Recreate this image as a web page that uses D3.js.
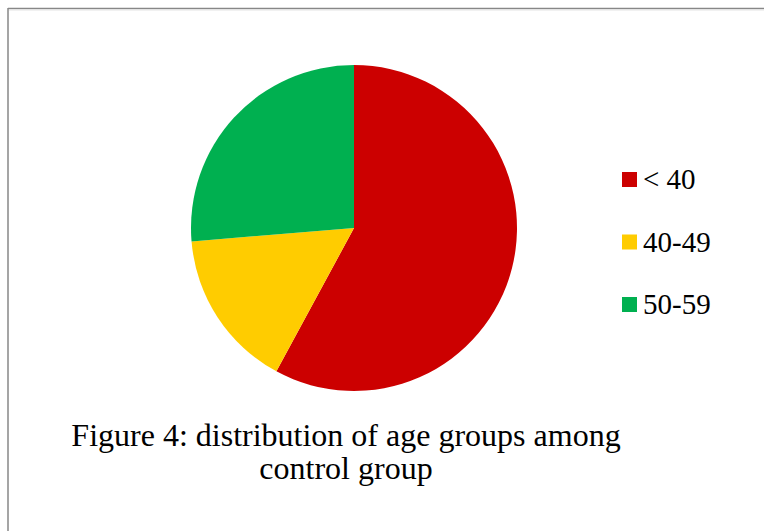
<!DOCTYPE html>
<html>
<head>
<meta charset="utf-8">
<script src="https://cdn.jsdelivr.net/npm/d3@7"></script>
<style>
  body { margin: 0; background: #fff; }
  svg { display: block; }
  text { font-family: "Liberation Serif", serif; }
</style>
</head>
<body>
<div id="chart"></div>
<script>
// age groups of the control group (counts)
const categories = ["< 40", "40-49", "50-59"];
const counts = [22, 6, 10];
const colours = ["#cc0000", "#ffcc00", "#00b050"];
const captionLines = ["Figure 4: distribution of age groups among", "control group"];

const fullWidth = 764;
const fullHeight = 531;
const radius = 163;
const cx = 354, cy = 228;

const svg = d3.select("#chart").append("svg")
    .attr("width", fullWidth)
    .attr("height", fullHeight);

// chart frame (only the left and top edges are in view)
svg.append("line")
    .attr("x1", 8).attr("y1", 8.5).attr("x2", fullWidth).attr("y2", 8.5)
    .style("stroke", "#878787").style("stroke-width", 1.5);
svg.append("line")
    .attr("x1", 9).attr("y1", 10).attr("x2", fullWidth).attr("y2", 10)
    .style("stroke", "#e4e4e4").style("stroke-width", 1);
svg.append("line")
    .attr("x1", 8).attr("y1", 8).attr("x2", 8).attr("y2", fullHeight)
    .style("stroke", "#878787").style("stroke-width", 1.5);

const data = categories.map((c, i) => ({ name: c, value: counts[i], colour: colours[i] }));

const pie = d3.pie().value(d => d.value).sort(null);
const arc = d3.arc().innerRadius(0).outerRadius(radius);

const g = svg.append("g").attr("transform", `translate(${cx},${cy})`);

g.selectAll("path")
    .data(pie(data))
    .join("path")
    .attr("d", arc)
    .style("fill", d => d.data.colour);

// legend
const y = d3.scalePoint().domain(categories).range([189, 314]);

const legend = svg.append("g").attr("class", "legend");

legend.selectAll("rect")
    .data(data)
    .join("rect")
    .attr("x", 622)
    .attr("y", d => y(d.name) - 17)
    .attr("width", 15)
    .attr("height", 15)
    .style("fill", d => d.colour);

legend.selectAll("text")
    .data(data)
    .join("text")
    .attr("x", 643)
    .attr("y", d => y(d.name))
    .style("font-size", "29px")
    .style("fill", "#000")
    .text(d => d.name);

// caption
svg.append("g").selectAll("text")
    .data(captionLines)
    .join("text")
    .attr("x", 346)
    .attr("y", (d, i) => 446 + i * 33)
    .attr("text-anchor", "middle")
    .style("font-size", "32px")
    .style("fill", "#000")
    .text(d => d);
</script>
</body>
</html>
